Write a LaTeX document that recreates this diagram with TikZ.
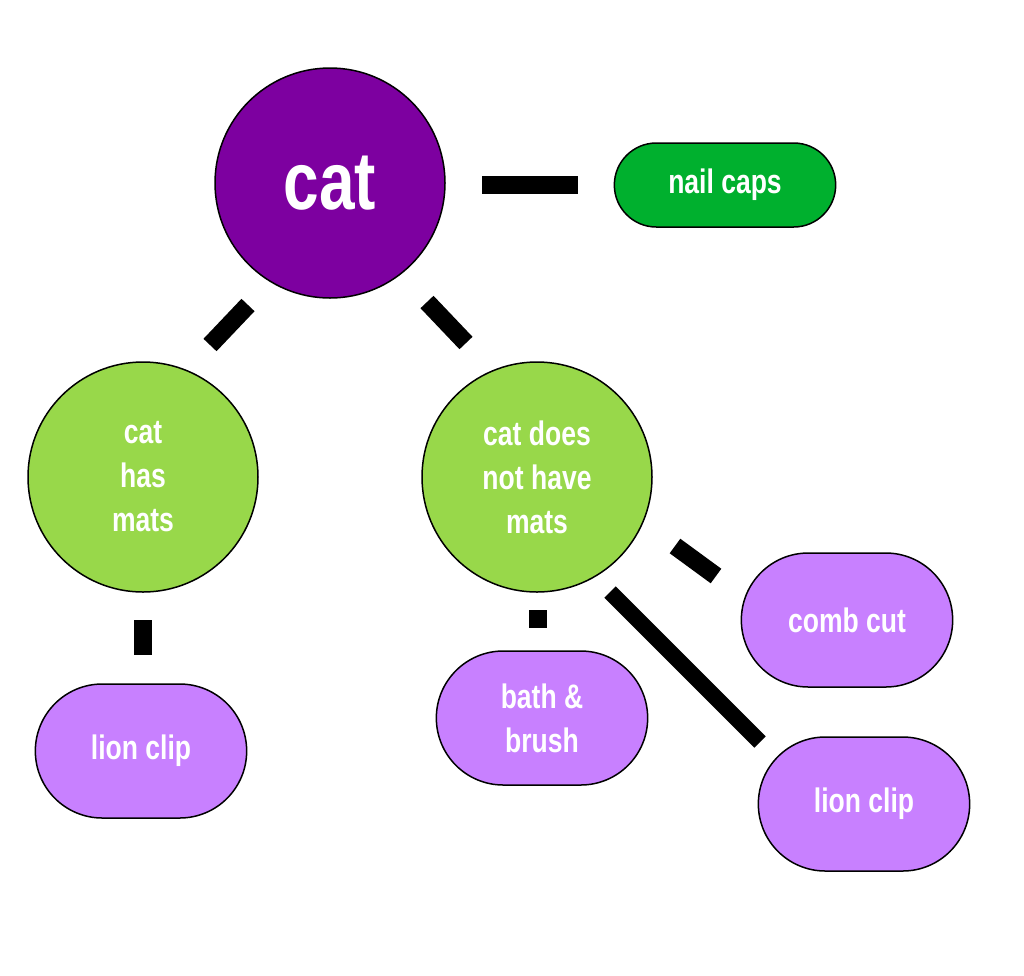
\documentclass[tikz,border=0pt]{standalone}
\usepackage{fontspec}
\setmainfont{Liberation Sans}[FakeStretch=0.78]
\definecolor{catp}{HTML}{7D00A0}
\definecolor{nailg}{HTML}{00B02E}
\definecolor{matg}{HTML}{98D84A}
\definecolor{lil}{HTML}{C880FF}
\tikzset{
 circ/.style={circle,draw=black,line width=1.5pt,text=white,font=\bfseries\fontsize{34}{44}\selectfont,align=center,inner sep=0pt},
 pill/.style={rounded rectangle,draw=black,line width=1.5pt,text=white,font=\bfseries\fontsize{34}{44}\selectfont,align=center,fill=lil,minimum width=218pt,minimum height=134pt},
 conn/.style={line width=18pt}
}
\usetikzlibrary{shapes.misc}
\begin{document}
\begin{tikzpicture}[x=1pt,y=-1pt]
\useasboundingbox (0,0) rectangle (1024,975);
\node[circ,fill=catp,minimum size=230pt,font=\bfseries\fontsize{82}{90}\selectfont] (cat) at (330,183) {cat};
\node[pill,fill=nailg,minimum width=228pt,minimum height=84pt] (nail) at (725,185) {nail caps};
\node[circ,fill=matg,minimum size=230pt] (has) at (143,477) {cat\\has\\mats};
\node[circ,fill=matg,minimum size=230pt] (not) at (537,477) {cat does\\not have\\mats};
\node[pill] (lion1) at (141,751) {lion clip};
\node[pill] (bath) at (542,718) {bath \&\\brush};
\node[pill] (comb) at (847,620) {comb cut};
\node[pill] (lion2) at (864,804) {lion clip};
\coordinate (a1) at (482,185); \coordinate (a2) at (578,185);
\coordinate (b1) at (248,305); \coordinate (b2) at (210,345);
\coordinate (c1) at (427,302); \coordinate (c2) at (466,343);
\coordinate (d1) at (143,620); \coordinate (d2) at (143,655);
\coordinate (e1) at (538,610); \coordinate (e2) at (538,628);
\coordinate (f1) at (675,546); \coordinate (f2) at (716,576);
\coordinate (g1) at (610,592); \coordinate (g2) at (760,742);
\draw[conn] (a1) -- (a2);
\draw[conn] (b1) -- (b2);
\draw[conn] (c1) -- (c2);
\draw[conn] (d1) -- (d2);
\draw[conn] (e1) -- (e2);
\draw[conn] (f1) -- (f2);
\draw[line width=16pt] (g1) -- (g2);
\end{tikzpicture}
\end{document}
